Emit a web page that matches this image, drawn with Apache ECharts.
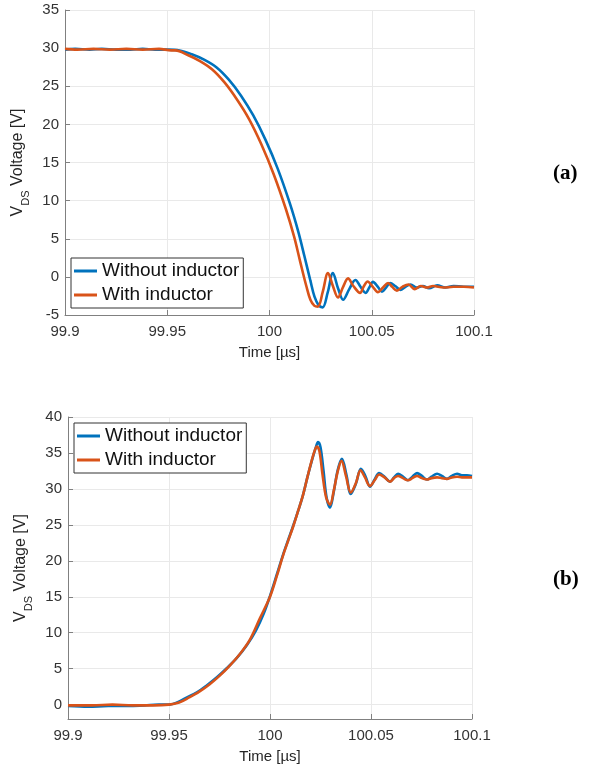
<!DOCTYPE html>
<html><head><meta charset="utf-8">
<script src="https://cdn.jsdelivr.net/npm/echarts@6/dist/echarts.min.js"></script>
<style>html,body{margin:0;padding:0;background:#fff}#c{width:603px;height:766px}</style>
</head><body><div id="c"></div>
<script>
// ---------- Data ----------
const seriesNames = ['Without inductor', 'With inductor'];
const xTicks = [99.9, 99.95, 100, 100.05, 100.1];
const yTicksA = [-5, 0, 5, 10, 15, 20, 25, 30, 35];
const yTicksB = [0, 5, 10, 15, 20, 25, 30, 35, 40];
const panelLabels = ['(a)', '(b)'];

// (a) turn-off transient
const tA_without = [99.900,99.905,99.912,99.918,99.925,99.932,99.938,99.944,99.950,99.956,99.962,99.968,99.974,99.980,99.986,99.992,99.998,100.004,100.010,100.014,100.017,100.020,100.022,100.024,100.026,100.0285,100.031,100.0335,100.036,100.039,100.042,100.0445,100.047,100.0488,100.0506,100.053,100.055,100.057,100.059,100.0615,100.064,100.0665,100.069,100.072,100.075,100.078,100.082,100.086,100.090,100.095,100.100];
const vA_without = [29.8,29.9,29.8,29.9,29.8,29.8,29.9,29.8,29.8,29.7,29.2,28.5,27.5,25.9,23.8,21.2,18.0,14.2,9.6,6.0,2.8,-0.5,-2.6,-3.7,-4.0,-2.0,0.5,-1.5,-3.0,-1.6,-0.4,-1.3,-2.1,-1.4,-0.65,-1.3,-1.95,-1.4,-0.8,-1.2,-1.7,-1.3,-1.0,-1.4,-1.2,-1.5,-1.1,-1.4,-1.2,-1.3,-1.3];
const tA_with = [99.900,99.906,99.914,99.922,99.930,99.938,99.946,99.952,99.954,99.960,99.966,99.972,99.978,99.984,99.990,99.996,100.002,100.008,100.012,100.015,100.018,100.020,100.022,100.0237,100.026,100.0286,100.031,100.0335,100.036,100.0384,100.041,100.0443,100.046,100.048,100.0505,100.053,100.0555,100.058,100.060,100.0623,100.065,100.068,100.071,100.074,100.077,100.080,100.085,100.090,100.095,100.100];
const vA_with = [29.9,29.8,29.9,29.8,29.9,29.8,29.9,29.7,29.7,29.1,28.3,27.2,25.5,23.3,20.7,17.4,13.5,8.9,5.3,2.0,-1.2,-3.0,-3.8,-3.9,-2.0,0.5,-1.2,-2.7,-1.3,-0.2,-1.2,-2.1,-1.3,-0.6,-1.3,-2.0,-1.4,-0.8,-1.3,-1.8,-1.3,-1.0,-1.6,-1.2,-1.4,-1.2,-1.4,-1.3,-1.3,-1.4];

// (b) turn-on transient
const tB_without = [99.900,99.910,99.920,99.930,99.938,99.945,99.950,99.954,99.9589,99.9638,99.9688,99.9737,99.9787,99.9836,99.9886,99.993,99.9968,100.000,100.0035,100.0064,100.009,100.0114,100.014,100.0163,100.0185,100.0208,100.0225,100.0238,100.025,100.0265,100.028,100.0297,100.0315,100.0335,100.0356,100.0378,100.040,100.0425,100.045,100.0472,100.0495,100.0518,100.054,100.0567,100.0594,100.0614,100.0634,100.0658,100.0683,100.0705,100.0728,100.0752,100.0777,100.080,100.0827,100.0851,100.0876,100.090,100.0926,100.095,100.0975,100.100];
const vB_without = [-0.2,-0.3,-0.2,-0.2,-0.1,0.0,0.0,0.3,1.0,1.7,2.7,3.8,5.1,6.5,8.3,10.3,12.6,15.1,18.2,20.8,22.9,24.8,27.0,29.1,31.6,34.0,35.6,36.5,35.8,32.5,28.8,27.4,29.5,32.6,34.2,32.0,29.3,30.7,32.8,31.8,30.3,31.3,32.2,31.7,31.0,31.6,32.1,31.7,31.2,31.7,32.2,31.8,31.3,31.7,32.1,31.8,31.4,31.8,32.1,31.9,31.9,31.8];
const tB_with = [99.900,99.912,99.922,99.932,99.942,99.950,99.955,99.960,99.965,99.970,99.975,99.980,99.985,99.990,99.995,100.000,100.0035,100.0064,100.009,100.0114,100.014,100.0163,100.0185,100.0205,100.0222,100.0232,100.0245,100.026,100.0278,100.0297,100.0316,100.0335,100.0354,100.0376,100.040,100.0425,100.0448,100.047,100.0495,100.0518,100.054,100.0567,100.0594,100.0614,100.0634,100.0658,100.0683,100.0705,100.0728,100.0752,100.0777,100.080,100.0827,100.0851,100.0876,100.090,100.0926,100.095,100.100];
const vB_with = [-0.1,-0.1,0.0,-0.1,-0.1,0.0,0.3,1.0,1.8,2.8,4.0,5.4,7.0,9.0,12.0,15.0,18.0,20.7,22.8,24.7,27.0,29.1,31.6,33.8,35.4,35.9,35.2,32.0,28.8,27.8,29.8,32.4,33.9,31.8,29.5,30.8,32.6,31.6,30.4,31.2,32.0,31.6,31.0,31.5,31.8,31.5,31.2,31.5,31.8,31.5,31.3,31.5,31.6,31.5,31.4,31.6,31.7,31.6,31.6];

// ---------- Chart ----------
const zip = (a, b) => a.map((v, i) => [v, b[i]]);
const colors = ['#0072BD', '#D95319'];
const FONT = 'Liberation Sans, Arial, sans-serif';
const fmtX = v => String(parseFloat((+v).toFixed(3)));

function xAxisOf(gi) {
  return {
    type: 'value', gridIndex: gi, min: xTicks[0], max: xTicks[xTicks.length - 1], interval: 0.05,
    name: 'Time [µs]', nameLocation: 'middle', nameGap: 30,
    nameTextStyle: { fontFamily: FONT, fontSize: 15, color: '#262626' },
    axisLine: { onZero: false, lineStyle: { color: '#808080', width: 1 } },
    axisTick: { inside: true, length: 5, lineStyle: { color: '#808080' } },
    axisLabel: { fontFamily: FONT, fontSize: 15, color: '#333', margin: 9, formatter: fmtX },
    splitLine: { show: true, lineStyle: { color: '#e9e9e9', width: 1 } }
  };
}
const yName = '{n|V}{s|DS}{n| Voltage [V]}';
const yRich = {
  n: { fontFamily: FONT, fontSize: 16, color: '#262626', lineHeight: 18, verticalAlign: 'top' },
  s: { fontFamily: FONT, fontSize: 11, color: '#262626', lineHeight: 12, padding: [11, 0, 0, 0], verticalAlign: 'top' }
};
function yAxisOf(gi, ticks, minV) {
  const ax = {
    type: 'value', gridIndex: gi, min: minV, max: ticks[ticks.length - 1],
    name: yName, nameLocation: 'middle', nameGap: 12, nameRotate: 90,
    nameTextStyle: { rich: yRich },
    axisLine: { show: true, lineStyle: { color: '#808080', width: 1 } },
    axisTick: { show: true, inside: true, length: 5, lineStyle: { color: '#808080' } },
    axisLabel: { fontFamily: FONT, fontSize: 15, color: '#333', margin: 6,
                 formatter: v => (ticks.indexOf(+v) >= 0 ? String(v) : '') },
    splitLine: { show: true, lineStyle: { color: '#e9e9e9', width: 1 } }
  };
  if (minV === ticks[0]) ax.interval = 5; else ax.splitNumber = 8;
  return ax;
}
function lineSeries(name, gi, t, v, ci) {
  return {
    type: 'line', name: name, xAxisIndex: gi, yAxisIndex: gi, data: zip(t, v),
    showSymbol: false, symbol: 'none', smooth: 0.35, animation: false,
    lineStyle: { color: colors[ci], width: 2.6 }, itemStyle: { color: colors[ci] }
  };
}
function legendOf(left, top) {
  return {
    data: seriesNames, orient: 'vertical', left: left, top: top,
    icon: 'rect', itemWidth: 23, itemHeight: 3, itemGap: 2,
    padding: [2, 4, 2, 3], borderColor: '#333', borderWidth: 1, backgroundColor: '#fff',
    textStyle: { fontFamily: FONT, fontSize: 19, color: '#111', lineHeight: 22 },
    selectedMode: false, z: 10
  };
}

const chart = echarts.init(document.getElementById('c'), null, { renderer: 'canvas' });
chart.setOption({
  animation: false,
  backgroundColor: '#fff',
  grid: [
    { left: 65, top: 10, width: 409, height: 305 },
    { left: 68, top: 417, width: 404, height: 302 }
  ],
  xAxis: [xAxisOf(0), xAxisOf(1)],
  yAxis: [yAxisOf(0, yTicksA, -5), yAxisOf(1, yTicksB, -2)],
  legend: [legendOf(71, 258), legendOf(74, 423)],
  series: [
    lineSeries(seriesNames[0], 0, tA_without, vA_without, 0),
    lineSeries(seriesNames[1], 0, tA_with, vA_with, 1),
    lineSeries(seriesNames[0], 1, tB_without, vB_without, 0),
    lineSeries(seriesNames[1], 1, tB_with, vB_with, 1)
  ],
  graphic: [
    { type: 'text', left: 553, top: 163, style: { text: panelLabels[0], fontFamily: 'Liberation Serif, Times New Roman, serif', fontWeight: 'bold', fontSize: 21, fill: '#000' } },
    { type: 'text', left: 553, top: 569, style: { text: panelLabels[1], fontFamily: 'Liberation Serif, Times New Roman, serif', fontWeight: 'bold', fontSize: 21, fill: '#000' } }
  ]
});
</script></body></html>
